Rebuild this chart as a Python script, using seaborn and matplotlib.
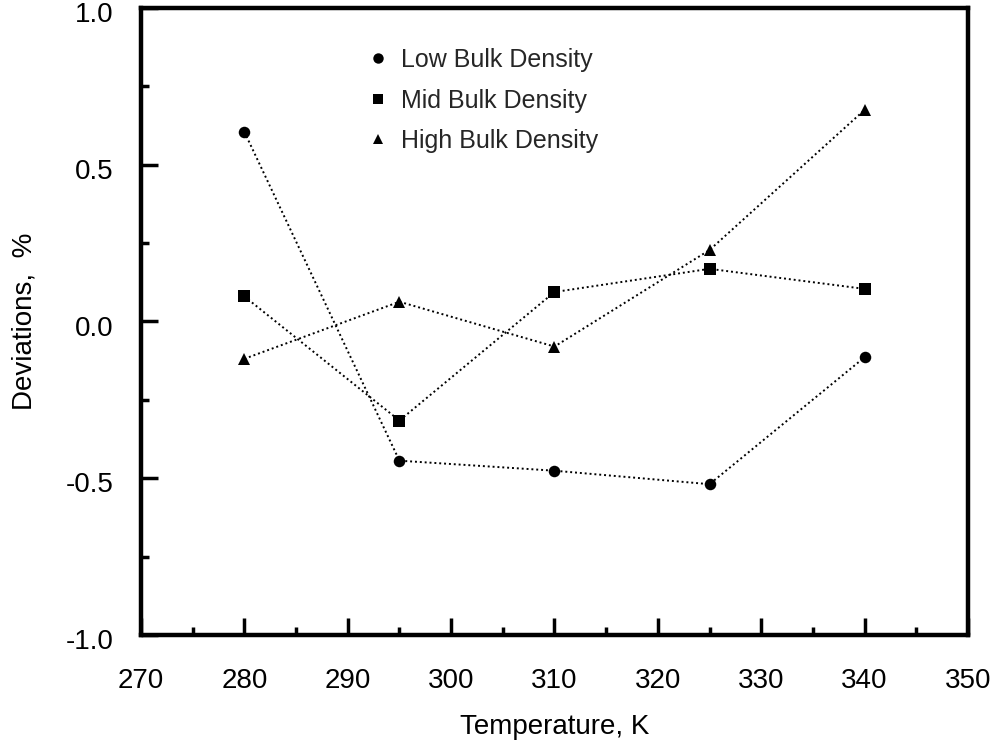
import matplotlib
matplotlib.use("Agg")
import matplotlib.pyplot as plt
import matplotlib.transforms as mtransforms
from matplotlib.lines import Line2D
from matplotlib.ticker import MultipleLocator, FormatStrFormatter
import seaborn as sns
import pandas as pd

# Measured deviations (%) at each temperature for three bulk densities
temperature = [280, 295, 310, 325, 340]
low_density = [0.605, -0.444, -0.476, -0.519, -0.114]
mid_density = [0.080, -0.316, 0.094, 0.168, 0.104]
high_density = [-0.119, 0.063, -0.080, 0.228, 0.675]

series_names = ["Low Bulk Density", "Mid Bulk Density", "High Bulk Density"]
series_markers = ["o", "s", "^"]

df = pd.DataFrame({
    "Temperature": temperature * 3,
    "Deviation": low_density + mid_density + high_density,
    "Series": [n for n in series_names for _ in temperature],
})

sns.set_theme(style="white")
plt.rcParams["font.family"] = ["Liberation Sans", "DejaVu Sans"]

fig = plt.figure(figsize=(9.97, 7.48), dpi=100)
ax = fig.add_axes([0.1414, 0.1511, 0.8295, 0.8382])

sns.lineplot(
    data=df, x="Temperature", y="Deviation", style="Series",
    markers=dict(zip(series_names, series_markers)),
    dashes={n: (1, 1.5) for n in series_names},
    color="black", linewidth=1.4, markersize=8.3, markeredgewidth=0,
    legend=False, ax=ax,
)

ax.set_xlim(270, 350)
ax.set_ylim(-1.0, 1.0)
ax.xaxis.set_major_locator(MultipleLocator(10))
ax.xaxis.set_minor_locator(MultipleLocator(5))
ax.yaxis.set_major_locator(MultipleLocator(0.5))
ax.yaxis.set_minor_locator(MultipleLocator(0.25))
ax.yaxis.set_major_formatter(FormatStrFormatter("%.1f"))

ax.tick_params(which="both", direction="in", bottom=True, left=True,
               top=False, right=False, color="black", width=2.5,
               labelsize=20, labelcolor="black")
ax.tick_params(which="major", length=12.5)
ax.tick_params(which="minor", length=5.5)
ax.tick_params(axis="x", which="major", pad=24)
ax.tick_params(axis="y", which="major", pad=20)

for s in ax.spines.values():
    s.set_visible(True)
    s.set_color("black")
    s.set_linewidth(3.2)

ax.set_xlabel("Temperature, K", fontsize=20, labelpad=14, color="black")
ax.set_ylabel("Deviations,  %", fontsize=20, labelpad=20, color="black")

handles = [
    Line2D([], [], linestyle="none", marker=m, color="black", markersize=7.5,
           markeredgewidth=0, label=n)
    for n, m in zip(series_names, series_markers)
]
ax.legend(handles=handles, loc="upper left", bbox_to_anchor=(0.259, 0.952),
          frameon=False, fontsize=18, handlelength=1.0, handletextpad=0.45,
          labelspacing=0.66, borderaxespad=0)

# y tick labels sit a little below their ticks
fig.canvas.draw()
shift = mtransforms.ScaledTranslation(0, -3 / 72, fig.dpi_scale_trans)
for tick in ax.yaxis.get_major_ticks():
    tick.label1.set_transform(tick.label1.get_transform() + shift)

fig.savefig("out.png", dpi=100)
